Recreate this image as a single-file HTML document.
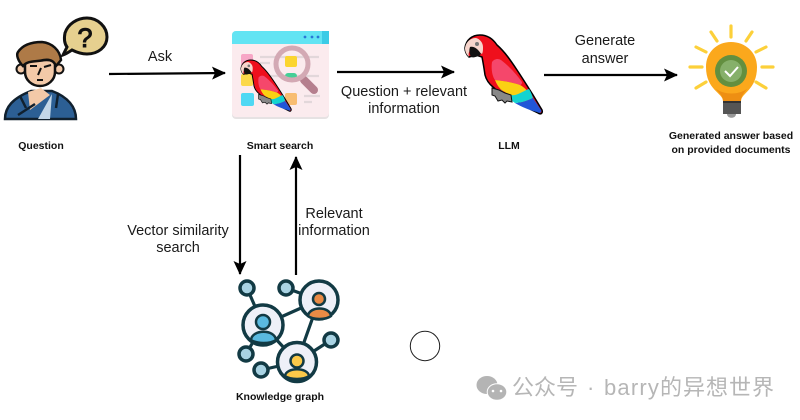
<!DOCTYPE html>
<html>
<head>
<meta charset="utf-8">
<style>
html,body{margin:0;padding:0;background:#fff;width:800px;height:420px;overflow:hidden}
svg{display:block}
text{font-family:"Liberation Sans","Noto Sans CJK SC",sans-serif}
.l{font-size:14.5px;fill:#1a1a1a;text-anchor:middle}
.b{font-size:10.5px;font-weight:bold;fill:#111;text-anchor:middle}
.n{fill:#a9d3e3;stroke:#123a44;stroke-width:3.5}
.c{fill:#eef0f8;stroke:#123a44;stroke-width:3.5}
.w{font-size:22px;fill:#b6b6b6}
</style>
</head>
<body>
<svg width="800" height="420" viewBox="0 0 800 420" xmlns="http://www.w3.org/2000/svg">
<defs>
<marker id="a" viewBox="0 0 14 13" refX="13" refY="6.5" markerWidth="14" markerHeight="13" markerUnits="userSpaceOnUse" orient="auto">
<path d="M0 0L14 6.5L0 13L3 6.5Z" fill="#000"/>
</marker>
<g id="parrot">
<path d="M465 48C466 40 472 35 480 35C488 35 493 39 497 45C505 52 511 61 517 70C523 79 528 87 533 95L542 110C543 113 541 115 538 113C529 109 518 102 510 96C503 94 497 91 493 87C488 83 486 79 485 75C484 68 483 62 482 57L476 55L469 57C466 54 465 51 465 48Z" fill="#ef0f1c" stroke="#000" stroke-width="1.5"/>
<path d="M492 62C494 59 498 58 501 60C510 67 517 75 522 82C522 84 521 85 520 85C512 82 503 81 495 80C492 76 491 68 492 62Z" fill="#f5476b"/>
<path d="M495 80C503 81 512 82 520 85C524 87 527 90 530 95L520 95C515 98 510 96 505 92C500 90 497 85 495 80Z" fill="#fbd113"/>
<path d="M500 89C504 93 510 96 515 95C520 94 525 90 529 89C531 92 532 95 533 98C527 101 521 103 515 103C509 99 504 94 500 89Z" fill="#14d3d0"/>
<path d="M515 103C521 103 527 101 533 98L541 110C542 112 540 114 537 112C529 110 522 107 515 103Z" fill="#2156d8"/>
<path d="M465 48C466 42 470 38 476 38C480 39 483 43 483 47C483 50 483 52 482 54L476 50L471 49C469 51 468 54 469 57C466 54 465 51 465 48Z" fill="#f7d5cc"/>
<path d="M470 47C474 46 478 49 481 54C478 57 473 58 471 57C469 53 469 50 470 47Z" fill="#111"/>
<circle cx="477" cy="44" r="2" fill="#777"/>
<path d="M492 88L499 90L505 93L511 95L512 102L507 101L505 103L502 100L498 101L495 96L492 95Z" fill="#888" stroke="#111" stroke-width="1"/>
</g>
</defs>
<rect width="800" height="420" fill="#fff"/>

<!-- Question person -->
<path d="M63 55L67 47C64 43 64 38 65 33C68 24 77 18 87 18C98 18 107 27 107 37C107 47 98 54 87 54C81 54 76 52 72 50C69 52 66 54 63 55Z" fill="#e6d08f" stroke="#111" stroke-width="3"/>
<text x="85" y="47" style="font-size:27px;font-weight:normal;text-anchor:middle;stroke:#111;stroke-width:1" fill="#111">?</text>
<path d="M5 119C5 107 13 98 31 91L52 91C68 97 76 107 76 119Z" fill="#2c5f94" stroke="#10202e" stroke-width="2.5"/>
<path d="M38 119L52 94L50 119Z" fill="#c3d7e8"/>
<path d="M28 92L41 88L50 95L30 110Z" fill="#f3c9a8"/>
<path d="M18 115L35 104M20 96L26 108M58 94L56 108" stroke="#10202e" stroke-width="2.5" fill="none"/>
<circle cx="21" cy="69" r="4.5" fill="#f3c9a8" stroke="#111" stroke-width="2"/>
<circle cx="59" cy="69" r="4.5" fill="#f3c9a8" stroke="#111" stroke-width="2"/>
<path d="M25 60L25 72C25 80 32 86 40 86C48 86 55 80 55 72L55 60Z" fill="#f3c9a8" stroke="#111" stroke-width="2.5"/>
<path d="M23 66C18 61 16 55 18 52C22 46 30 42 42 42C52 43 60 50 61 60L56 66C54 61 50 59 44 60C36 62 28 60 23 66Z" fill="#ae7a47" stroke="#111" stroke-width="2.5"/>
<path d="M30 66L37 66M44 67L51 65M41 68L38 75M37 80L43 80" stroke="#111" stroke-width="2" fill="none"/>

<!-- Smart search -->
<rect x="232" y="31" width="97" height="88" rx="4" fill="#e6e2e3"/>
<path d="M232 35a4 4 0 0 1 4-4h89a4 4 0 0 1 4 4v78a4 4 0 0 1-4 4H236a4 4 0 0 1-4-4Z" fill="#fbebee"/>
<path d="M232 44V35a4 4 0 0 1 4-4h89a4 4 0 0 1 4 4v9Z" fill="#62e4f3"/>
<rect x="322" y="31" width="7" height="13" fill="#3bcbe6"/>
<circle cx="305" cy="37" r="1.4" fill="#2a78d6"/><circle cx="312" cy="37" r="1.4" fill="#2a78d6"/><circle cx="318" cy="37" r="1.4" fill="#2a78d6"/>
<rect x="241" y="54" width="12" height="12" rx="2" fill="#f7a6c6"/>
<rect x="241" y="74" width="12" height="12" rx="2" fill="#fbd84a"/>
<rect x="241" y="93" width="13" height="13" rx="2" fill="#4fd8f3"/>
<rect x="285" y="93" width="12" height="12" rx="2" fill="#f8bd72"/>
<path d="M260 57H319M260 63H270M260 76H319M304 96H320M304 102H312" stroke="#e2d7da" stroke-width="2.2"/>
<rect x="285" y="56" width="12" height="11" rx="2" fill="#fbd52f"/>
<rect x="285" y="73" width="12" height="6" rx="3" fill="#45cf97"/>
<path d="M304 80L314 90" stroke="#b57f8e" stroke-width="8" stroke-linecap="round"/>
<circle cx="292" cy="64" r="16" fill="none" stroke="#d3a9b4" stroke-width="5"/>
<use href="#parrot" transform="translate(241 60) scale(.65) translate(-465 -35)"/>

<!-- LLM -->
<use href="#parrot"/>

<!-- Bulb -->
<path d="M731 26V37M711 32L717 41M752 32L746 41M696 47L706 52M766 47L756 52M690 67H702M762 67H773M696 88L706 82M766 88L756 82" stroke="#fcd03a" stroke-width="3.2" stroke-linecap="round"/>
<path d="M723 101C723 93 706 90 706 67C706 52 717 42 731 42C745 42 757 52 757 67C757 90 741 93 741 101Z" fill="#fba81c"/>
<path d="M723 101C723 96 719 93 716 89C725 95 738 95 747 89C744 93 741 96 741 101Z" fill="#ee8f13"/>
<rect x="723" y="101" width="18" height="13" fill="#555"/>
<rect x="723" y="101" width="18" height="2" fill="#333"/>
<path d="M727 114H736C736 119 727 119 727 114Z" fill="#999"/>
<circle cx="731" cy="71" r="16" fill="#638f3f"/>
<circle cx="731" cy="71" r="11" fill="#86b06a"/>
<path d="M725 71L730 76L738 67" stroke="#fff" stroke-width="2" fill="none"/>

<!-- Knowledge graph -->
<path d="M247 288L263 325M286 288L319 300M263 325L319 300M319 300L297 362M263 325L297 362M263 325L246 354M297 362L261 370M297 362L331 340" stroke="#123a44" stroke-width="3.2"/>
<circle class="n" cx="247" cy="288" r="7"/>
<circle class="n" cx="286" cy="288" r="7"/>
<circle class="n" cx="331" cy="340" r="7"/>
<circle class="n" cx="246" cy="354" r="7"/>
<circle class="n" cx="261" cy="370" r="7"/>
<circle class="c" cx="319" cy="300" r="19"/>
<circle class="c" cx="263" cy="325" r="20"/>
<circle class="c" cx="297" cy="362" r="19.5"/>
<path d="M308 316C309 306 330 306 331 316C326 320 313 320 308 316Z" fill="#ea8b45" stroke="#123a44" stroke-width="2.5"/>
<circle cx="319" cy="299" r="6" fill="#ea8b45" stroke="#123a44" stroke-width="2.5"/>
<path d="M251 340C252 329 275 329 276 340C270 344 257 344 251 340Z" fill="#5ab9df" stroke="#123a44" stroke-width="2.5"/>
<circle cx="263" cy="322" r="7" fill="#5ab9df" stroke="#123a44" stroke-width="2.5"/>
<path d="M285 376C286 367 308 367 309 376C304 380 290 380 285 376Z" fill="#fbc949" stroke="#123a44" stroke-width="2.5"/>
<circle cx="297" cy="361" r="6.5" fill="#fbc949" stroke="#123a44" stroke-width="2.5"/>

<!-- Arrows -->
<g stroke="#000" stroke-width="2.2" fill="none" marker-end="url(#a)">
<line x1="109" y1="74" x2="225" y2="73"/>
<line x1="337" y1="72" x2="454" y2="72"/>
<line x1="544" y1="75" x2="677" y2="75"/>
<line x1="240" y1="155" x2="240" y2="274"/>
<line x1="296" y1="275" x2="296" y2="157"/>
</g>

<!-- Labels -->
<text class="l" x="160" y="61">Ask</text>
<text class="l" x="404" y="96">Question + relevant</text>
<text class="l" x="404" y="113">information</text>
<text class="l" x="605" y="45">Generate</text>
<text class="l" x="605" y="63">answer</text>
<text class="l" x="178" y="235">Vector similarity</text>
<text class="l" x="178" y="252">search</text>
<text class="l" x="334" y="218">Relevant</text>
<text class="l" x="334" y="235">information</text>
<text class="b" x="41" y="149">Question</text>
<text class="b" x="280" y="149">Smart search</text>
<text class="b" x="509" y="149">LLM</text>
<text class="b" x="731" y="139">Generated answer based</text>
<text class="b" x="731" y="153">on provided documents</text>
<text class="b" x="280" y="400">Knowledge graph</text>

<circle cx="425" cy="346" r="14.7" fill="#fff" stroke="#222" stroke-width="1"/>

<!-- Watermark -->
<ellipse cx="487" cy="385" rx="10.5" ry="9" fill="#b4b4b4"/>
<ellipse cx="497" cy="392" rx="9.8" ry="8.3" fill="#b4b4b4" stroke="#fff" stroke-width="1"/>
<circle cx="493" cy="391" r="1.3" fill="#fff"/><circle cx="501" cy="391" r="1.3" fill="#fff"/>
<text class="w" x="512" y="395">公众号</text>
<text class="w" x="587" y="395">·</text>
<text class="w" x="604" y="395" style="letter-spacing:1.2px">barry</text>
<text class="w" x="660" y="395" style="letter-spacing:1px">的异想世界</text>
</svg>
</body>
</html>
